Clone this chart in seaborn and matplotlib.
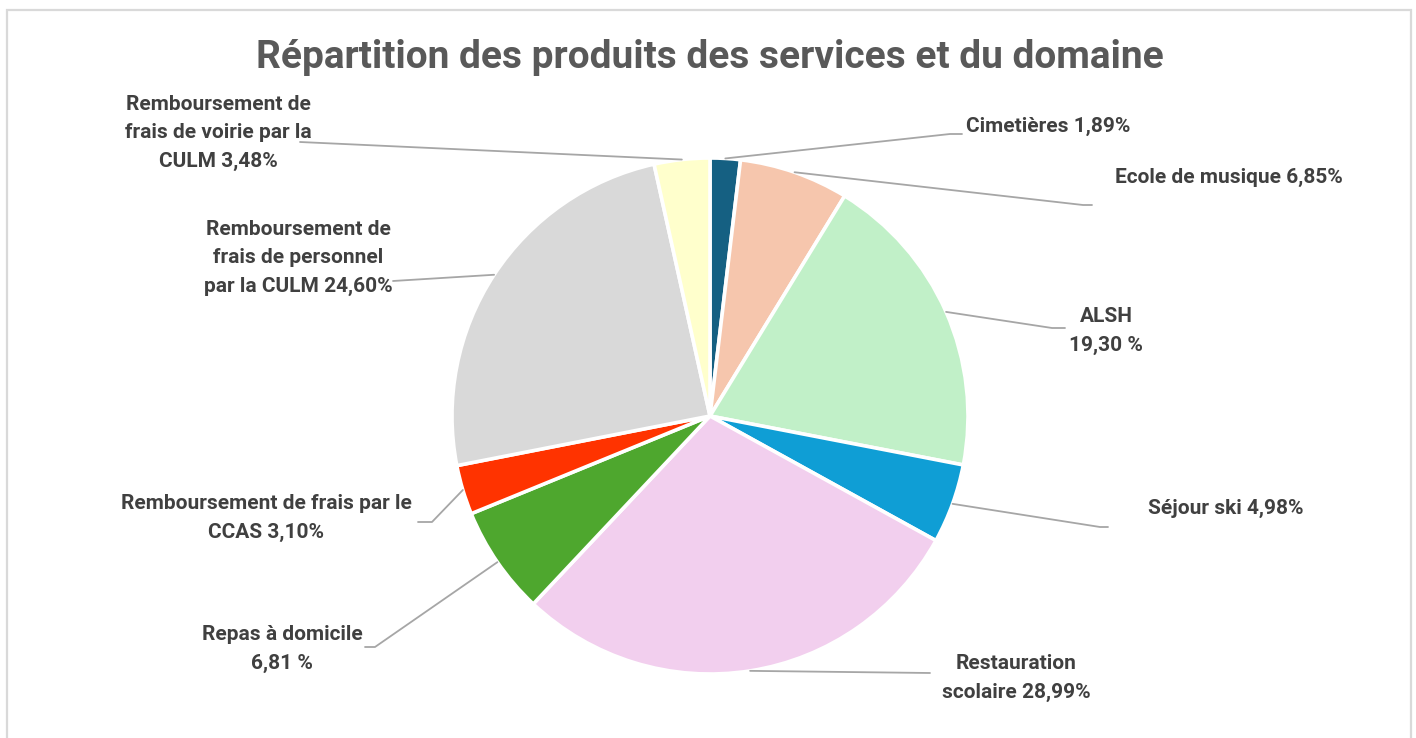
import numpy as np
import matplotlib
matplotlib.use("Agg")
import matplotlib.pyplot as plt
from matplotlib.patches import Rectangle
import seaborn as sns

# ---- data ----
categories = [
    "Cimetières", "Ecole de musique", "ALSH", "Séjour ski",
    "Restauration scolaire", "Repas à domicile",
    "Remboursement de frais par le CCAS",
    "Remboursement de frais de personnel par la CULM",
    "Remboursement de frais de voirie par la CULM",
]
values = [1.89, 6.85, 19.30, 4.98, 28.99, 6.81, 3.10, 24.60, 3.48]
labels = [
    "Cimetières 1,89%",
    "Ecole de musique 6,85%",
    "ALSH\n19,30 %",
    "Séjour ski 4,98%",
    "Restauration\nscolaire 28,99%",
    "Repas à domicile\n6,81 %",
    "Remboursement de frais par le\nCCAS 3,10%",
    "Remboursement de\nfrais de personnel\npar la CULM 24,60%",
    "Remboursement de\nfrais de voirie par la\nCULM 3,48%",
]
colors = ["#156082", "#f6c6ad", "#c1f0c8", "#0f9ed5", "#f2cfee",
          "#4ea72e", "#ff3300", "#d9d9d9", "#ffffcc"]
title = "Répartition des produits des services et du domaine"

# ---- layout (pixel coordinates, top-left origin) ----
W, H = 1416, 738
CX, CY, R = 710, 416, 258
label_pos = [
    (966, 126, "left"),
    (1115, 177, "left"),
    (1106, 331, "center"),
    (1148, 508, "left"),
    (1016, 678, "center"),
    (282, 649, "center"),
    (266, 518, "center"),
    (298, 258, "center"),
    (218, 133, "center"),
]
leader_pts = [
    [(950, 134), (962, 134)],
    [(1083, 205), (1092, 205)],
    [(1052, 328), (1065, 328)],
    [(1100, 527), (1108, 527)],
    [(930, 673)],
    [(375, 647), (365, 647)],
    [(432, 522), (418, 522)],
    [(393, 281)],
    [(300, 142)],
]

sns.set_theme(style="white")
plt.rcParams["font.family"] = ["Roboto", "DejaVu Sans"]

fig = plt.figure(figsize=(W / 100, H / 100), dpi=100)
ax = fig.add_axes([0, 0, 1, 1])

def fy(y):
    return H - y

wedges, _ = ax.pie(values, colors=colors, startangle=90, counterclock=False,
                   center=(CX, fy(CY)), radius=R,
                   wedgeprops=dict(edgecolor="white", linewidth=2.6),
                   frame=True)
ax.set_xlim(0, W)
ax.set_ylim(0, H)
ax.set_aspect("equal")
ax.axis("off")

# frame
ax.add_patch(Rectangle((7, fy(760)), 1404, 750, fill=False,
                       edgecolor="#d9d9d9", lw=1.6, zorder=0))

# leaders and labels
cum = np.cumsum([0] + values[:-1])
for i, v in enumerate(values):
    mid = (cum[i] + v / 2) / 100 * 2 * np.pi
    sx = CX + R * np.sin(mid)
    sy = CY - R * np.cos(mid)
    pts = [(sx, sy)] + leader_pts[i]
    ax.plot([p[0] for p in pts], [fy(p[1]) for p in pts],
            color="#a6a6a6", lw=1.3, zorder=3)
    x, y, ha = label_pos[i]
    ax.text(x, fy(y), labels[i], ha=ha, va="center", fontsize=15,
            fontweight="bold", color="#404040", linespacing=1.62)

ax.text(710, fy(57), title, ha="center", va="center", fontsize=28,
        fontweight="bold", color="#595959")

fig.savefig("out.png", dpi=100, facecolor="white")
